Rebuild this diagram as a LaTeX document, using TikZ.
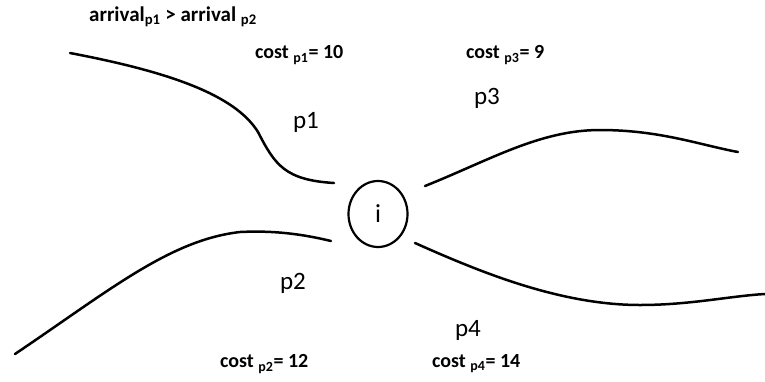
\documentclass[tikz,border=0pt]{standalone}
\usepackage{fontspec}
\setmainfont{Carlito}
\usetikzlibrary{shapes.geometric}
\begin{document}
\begin{tikzpicture}[x=1pt,y=-1pt,
  road/.style={line width=2.5pt,line cap=round},
  costlbl/.style={font=\fontsize{20}{22}\selectfont\bfseries,anchor=west,inner sep=0pt},
  pathlbl/.style={font=\fontsize{25}{28}\selectfont,inner sep=0pt}]
\useasboundingbox (0,0) rectangle (765,381);
\node[draw,ellipse,line width=2.2pt,minimum width=59pt,minimum height=66pt,inner sep=0pt,
  font=\fontsize{26}{28}\selectfont] (i) at (378,214) {i};
% end points
\coordinate (p1s) at (70,53);  \coordinate (p1e) at (334,183);
\coordinate (p2s) at (15,354); \coordinate (p2e) at (331,241);
\coordinate (p3s) at (425,186); \coordinate (p3e) at (738,152);
\coordinate (p4s) at (415,243); \coordinate (p4e) at (765,294);
\draw[road] (p1s) .. controls (170,72) and (235,95) .. (258,132)
  .. controls (275,165) and (285,180) .. (p1e);
\draw[road] (p2s) .. controls (110,290) and (170,240) .. (240,232)
  .. controls (280,230) and (310,236) .. (p2e);
\draw[road] (p3s) .. controls (490,160) and (540,130) .. (600,130)
  .. controls (660,130) and (700,145) .. (p3e);
\draw[road] (p4s) .. controls (480,272) and (560,305) .. (640,305)
  .. controls (690,305) and (730,296) .. (p4e);
% labels
\node[costlbl,font=\fontsize{21}{23}\selectfont\bfseries] (arr) at (89,17) {arrival\textsubscript{p1} > arrival \textsubscript{p2}};
\node[costlbl] (c1) at (255,55) {cost \textsubscript{p1}= 10};
\node[costlbl] (c3) at (466,55) {cost \textsubscript{p3}= 9};
\node[costlbl] (c2) at (220,364) {cost \textsubscript{p2}= 12};
\node[costlbl] (c4) at (432,364) {cost \textsubscript{p4}= 14};
\node[pathlbl] (l1) at (306,122) {p1};
\node[pathlbl] (l3) at (487,98) {p3};
\node[pathlbl] (l2) at (293,283) {p2};
\node[pathlbl] (l4) at (468,330) {p4};
\end{tikzpicture}
\end{document}
